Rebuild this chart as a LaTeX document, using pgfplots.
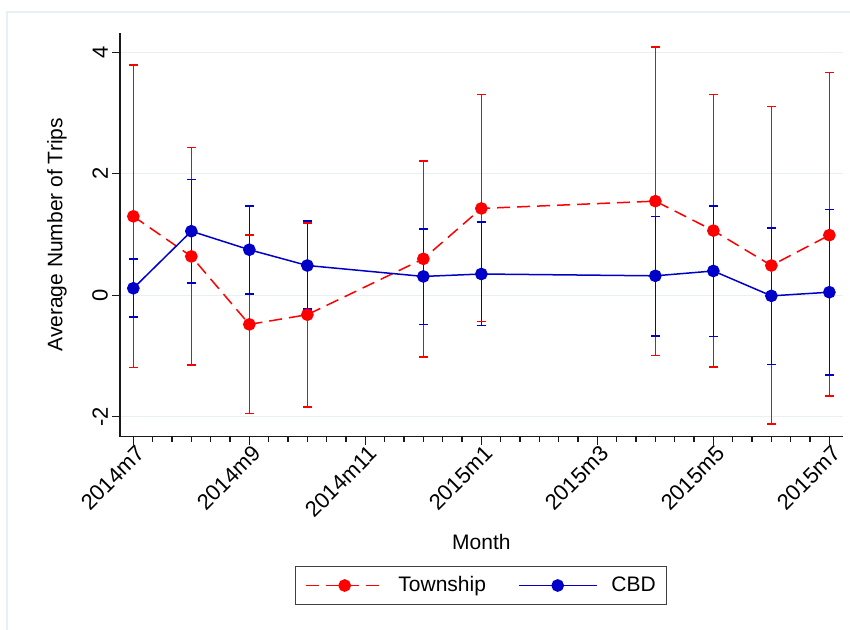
\documentclass[border=0pt]{standalone}
\usepackage{pgfplots}
\pgfplotsset{compat=1.18}
\usepackage{pgfplotstable}
\usepackage{fontspec}
\setmainfont{Liberation Sans}
\definecolor{tred}{RGB}{255,0,0}
\definecolor{cblue}{RGB}{0,0,200}
\definecolor{gridc}{RGB}{232,240,244}

\pgfplotstableread{
x y
0 1.30
1 0.64
2 -0.48
3 -0.32
5 0.60
6 1.43
9 1.55
10 1.065
11 0.49
12 0.99
}\township

\pgfplotstableread{
x v
0 3.79
0 -1.19
0 nan
1 2.43
1 -1.15
1 nan
2 0.99
2 -1.95
2 nan
3 1.19
3 -1.84
3 nan
5 2.21
5 -1.02
5 nan
6 3.31
6 -0.43
6 nan
9 4.09
9 -0.99
9 nan
10 3.31
10 -1.18
10 nan
11 3.11
11 -2.12
11 nan
12 3.67
12 -1.66
}\townshipci

\pgfplotstableread{
x y
0 0.115
1 1.055
2 0.75
3 0.49
5 0.31
6 0.35
9 0.32
10 0.40
11 -0.01
12 0.05
}\cbd

\pgfplotstableread{
x v
0 0.60
0 -0.36
0 nan
1 1.91
1 0.20
1 nan
2 1.47
2 0.02
2 nan
3 1.225
3 -0.23
3 nan
5 1.09
5 -0.48
5 nan
6 1.21
6 -0.50
6 nan
9 1.30
9 -0.67
9 nan
10 1.47
10 -0.68
10 nan
11 1.11
11 -1.14
11 nan
12 1.41
12 -1.31
}\cbdci

\begin{document}
\fontsize{21bp}{25bp}\selectfont
\begin{tikzpicture}
\useasboundingbox (0,0) rectangle (850bp,630bp);
\draw[gridc, line width=1.5bp] (7bp,0) -- (7bp,618bp) -- (850bp,618bp);
\begin{axis}[
  at={(120bp,193.3bp)}, anchor=south west,
  scale only axis, width=722.7bp, height=403.7bp,
  xmin=-0.23, xmax=12.23, ymin=-2.33, ymax=4.32,
  axis x line*=bottom, axis y line*=left,
  axis line style={black!90, line width=1.3bp},
  xtick={0,2,...,12},
  xticklabels={2014m7,2014m9,2014m11,2015m1,2015m3,2015m5,2015m7},
  minor x tick num=5,
  ytick={-2,0,2,4},
  tick align=outside,
  major tick length=8bp, minor tick length=5bp,
  tick style={black!90, line width=1.3bp},
  /pgf/number format/assume math mode=true,
  tick label style={font=\fontsize{22bp}{26bp}\selectfont},
  xticklabel style={rotate=45, anchor=north east, inner sep=1bp, xshift=3bp},
  yticklabel style={rotate=90, anchor=south, inner sep=4bp},
  ymajorgrids,
  grid style={gridc, line width=1.2bp},
  xlabel={Month}, ylabel={Average Number of Trips},
  label style={font=\fontsize{21bp}{25bp}\selectfont},
  xlabel style={at={(0.5,-0.26)}, anchor=center},
  ylabel style={at={(-0.0872,0.5)}, anchor=center},
  unbounded coords=jump,
  legend columns=2,
  legend image code/.code={\draw[mark repeat=2,mark phase=2,#1] plot coordinates {(0bp,0bp) (39bp,0bp) (78bp,0bp)};},
  legend style={at={(0.5,-0.3686)}, anchor=center, draw=black!75, line width=1bp,
    font=\fontsize{21bp}{25bp}\selectfont, inner xsep=9bp, inner ysep=8bp,
    /tikz/every odd column/.append style={column sep=12bp},
    /tikz/every even column/.append style={column sep=30bp}},
]
\addplot[tred, solid, line width=1.5bp, mark=-, mark size=4.7bp,
  mark options={solid, line width=1.5bp}, forget plot]
  table[x=x, y=v] {\townshipci};
\addplot[cblue, solid, line width=1.5bp, mark=-, mark size=4.7bp,
  mark options={solid, line width=1.5bp}, forget plot]
  table[x=x, y=v] {\cbdci};
\addplot[tred, line width=1.5bp, dash pattern=on 13bp off 7bp,
  mark=*, mark size=5.6bp, mark options={solid, fill=tred}]
  table[x=x, y=y] {\township};
\addlegendentry{Township}
\addplot[cblue, line width=1.5bp,
  mark=*, mark size=5.6bp, mark options={solid, fill=cblue}]
  table[x=x, y=y] {\cbd};
\addlegendentry{CBD}
\end{axis}
\end{tikzpicture}
\end{document}
